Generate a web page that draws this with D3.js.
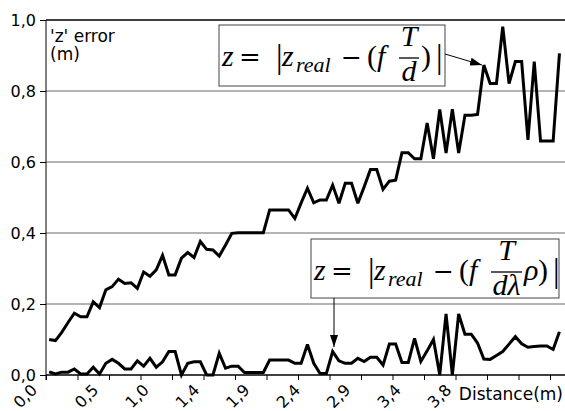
<!DOCTYPE html>
<html>
<head>
<meta charset="utf-8">
<title>'z' error vs distance</title>
<script src="https://d3js.org/d3.v7.min.js"></script>
<style>
    body { margin: 0; background: #fff; }
    svg { display: block; }
    .lbl { font-family: "DejaVu Sans", Verdana, sans-serif; fill: #000; }
    .axis path, .axis line { stroke: #000; }
    .serie { fill: none; stroke: #000; stroke-width: 3px; stroke-linejoin: miter; stroke-miterlimit: 3; }
    .math { font-family: "Liberation Serif", "Times New Roman", serif; fill: #000; }
</style>
</head>
<body>
<svg id="chart"></svg>
<script>
    // error of z without correction (upper curve), one value per distance step
    const upperError = [0.100, 0.097, 0.120, 0.148, 0.174, 0.164, 0.164, 0.206, 0.190, 0.240,
        0.249, 0.270, 0.258, 0.260, 0.244, 0.290, 0.278, 0.296, 0.337, 0.282,
        0.282, 0.329, 0.345, 0.331, 0.376, 0.354, 0.352, 0.335, 0.366, 0.399,
        0.401, 0.401, 0.401, 0.401, 0.401, 0.465, 0.465, 0.465, 0.465, 0.441,
        0.485, 0.526, 0.485, 0.493, 0.493, 0.535, 0.484, 0.540, 0.540, 0.484,
        0.530, 0.579, 0.579, 0.523, 0.546, 0.549, 0.626, 0.626, 0.609, 0.609,
        0.710, 0.609, 0.748, 0.625, 0.749, 0.625, 0.732, 0.732, 0.734, 0.873,
        0.821, 0.821, 0.981, 0.821, 0.883, 0.883, 0.662, 0.883, 0.659, 0.659,
        0.659, 0.906];

    // error of z with the lambda / rho correction (lower curve)
    const lowerError = [0.009, 0.003, 0.008, 0.008, 0.017, 0.003, 0.003, 0.022, 0.003, 0.033,
        0.044, 0.033, 0.017, 0.017, 0.040, 0.025, 0.047, 0.022, 0.037, 0.066,
        0.066, 0.000, 0.033, 0.037, 0.037, 0.000, 0.000, 0.061, 0.019, 0.025,
        0.025, 0.007, 0.007, 0.007, 0.007, 0.042, 0.042, 0.042, 0.042, 0.033,
        0.033, 0.086, 0.033, 0.004, 0.004, 0.066, 0.040, 0.033, 0.033, 0.047,
        0.038, 0.050, 0.050, 0.028, 0.087, 0.087, 0.035, 0.035, 0.103, 0.038,
        0.068, 0.100, 0.000, 0.172, 0.000, 0.172, 0.115, 0.115, 0.090, 0.045,
        0.044, 0.055, 0.066, 0.087, 0.108, 0.088, 0.078, 0.080, 0.082, 0.082,
        0.072, 0.122];

    // category labels, one every 8 steps
    const distLabels = ["0,0", "0,5", "1,0", "1,4", "1,9", "2,4", "2,9", "3,4", "3,8"];
    const labelEvery = 8;
    const tickEvery = 5;
    const yTicks = [0, 0.2, 0.4, 0.6, 0.8, 1.0];

    const W = 565, H = 411;
    const margin = { top: 20, left: 46 };
    const step = 6.3;
    const n = upperError.length;

    const svg = d3.select("#chart").attr("width", W).attr("height", H);

    const x = d3.scaleLinear().domain([0, n]).range([margin.left, margin.left + n * step]);
    const y = d3.scaleLinear().domain([0, 1]).range([375, margin.top]);

    // horizontal grid
    svg.append("g").selectAll("line")
        .data(yTicks.filter(d => d > 0))
        .join("line")
        .attr("x1", margin.left).attr("x2", W)
        .attr("y1", d => y(d)).attr("y2", d => y(d))
        .attr("stroke", d => d === 1 ? "#000" : "#6a6a6a")
        .attr("stroke-width", d => d === 1 ? 1.5 : 1.2);

    // y axis
    const yAxis = svg.append("g").attr("class", "axis")
        .attr("transform", `translate(${margin.left},0)`)
        .call(d3.axisLeft(y).tickValues(yTicks).tickSize(6).tickPadding(4)
            .tickFormat(d => d.toFixed(1).replace(".", ",")));
    yAxis.select(".domain").attr("d", `M0,${y(1)}V${y(0) + 5}`);
    yAxis.selectAll("text").attr("class", "lbl").style("font-size", "16px");

    // x axis
    const xAxis = svg.append("g").attr("class", "axis")
        .attr("transform", `translate(0,${y(0)})`)
        .call(d3.axisBottom(x).tickValues(d3.range(0, n, tickEvery)).tickSize(5).tickFormat(""));
    xAxis.select(".domain").attr("d", `M${margin.left},0H${W}`).attr("stroke-width", 1.5);

    svg.append("g").selectAll("text")
        .data(distLabels)
        .join("text")
        .attr("class", "lbl")
        .style("font-size", "16px")
        .attr("text-anchor", "end")
        .attr("transform", (d, i) => `translate(${x(i * labelEvery + 0.5) - (i === 0 ? 11 : 0)},391) rotate(-45)`)
        .text(d => d);

    // curves
    const line = d3.line().x((d, i) => x(i + 0.5)).y(d => y(d));
    svg.append("path").datum(upperError).attr("class", "serie").attr("d", line);
    svg.append("path").datum(lowerError).attr("class", "serie").attr("d", line);

    // axis titles
    svg.append("text").attr("class", "lbl").attr("x", 50).attr("y", 42).style("font-size", "17px").text("'z' error");
    svg.append("text").attr("class", "lbl").attr("x", 50).attr("y", 60).style("font-size", "17px").text("(m)");
    svg.append("text").attr("class", "lbl").attr("x", 563).attr("y", 400).attr("text-anchor", "end")
        .style("font-size", "17px").text("Distance(m)");

    // formula boxes
    function formula(bx, by, bw, bh, denom, tail) {
        const g = svg.append("g");
        g.append("rect").attr("x", bx).attr("y", by).attr("width", bw).attr("height", bh)
            .attr("fill", "#fff").attr("stroke", "#444").attr("stroke-width", 1);
        const x0 = bx + 3, base = by + 41;
        const put = (s, dx, opt = {}) => g.append("text").attr("class", "math")
            .attr("x", x0 + dx).attr("y", base + (opt.dy || 0))
            .attr("text-anchor", opt.anchor || "start")
            .style("font-size", (opt.size || 30) + "px")
            .style("font-style", opt.it ? "italic" : "normal")
            .style("font-family", opt.op ? "'DejaVu Serif', serif" : null)
            .text(s);
        put("z", 0, { it: true });
        put("=", 17, { op: true, size: 26 });
        put("|", 54, { size: 33, dy: 2 });
        put("z", 60, { it: true });
        put("real", 74, { it: true, size: 22, dy: 6 });
        put("\u2212", 119, { op: true, size: 25 });
        put("(", 145);
        put("f", 155, { it: true });
        const fw = denom.length === 1 ? 20 : 31;
        const fx = 177;
        g.append("line").attr("x1", x0 + fx).attr("x2", x0 + fx + fw)
            .attr("y1", base - 8).attr("y2", base - 8).attr("stroke", "#000").attr("stroke-width", 1.3);
        put("T", fx + fw / 2, { it: true, anchor: "middle", dy: -20 });
        put(denom, fx + fw / 2, { it: true, anchor: "middle", dy: 15 });
        let tx = fx + fw + 2;
        tail.forEach(t => { put(t.s, tx, { it: t.it, size: t.size, dy: t.dy }); tx += t.w; });
        return g;
    }
    formula(219, 25, 226, 61, "d", [{ s: ")", w: 15 }, { s: "|", w: 6, size: 33, dy: 2 }]);
    formula(311, 239, 248, 59, "d\u03bb", [{ s: "\u03c1", it: true, w: 14 }, { s: ")", w: 15 }, { s: "|", w: 6, size: 33, dy: 2 }]);

    // arrows pointing to the curves
    const defs = svg.append("defs");
    defs.append("marker").attr("id", "head").attr("viewBox", "0 0 12 8")
        .attr("refX", 12).attr("refY", 4).attr("markerWidth", 12).attr("markerHeight", 8)
        .attr("markerUnits", "userSpaceOnUse").attr("orient", "auto")
        .append("path").attr("d", "M0,0L12,4L0,8Z").attr("fill", "#000");
    svg.append("line").attr("x1", 445).attr("y1", 54).attr("x2", 482).attr("y2", 65)
        .attr("stroke", "#000").attr("stroke-width", 1).attr("marker-end", "url(#head)");
    svg.append("line").attr("x1", 334).attr("y1", 298).attr("x2", 334).attr("y2", 347)
        .attr("stroke", "#000").attr("stroke-width", 1).attr("marker-end", "url(#head)");
</script>
</body>
</html>
